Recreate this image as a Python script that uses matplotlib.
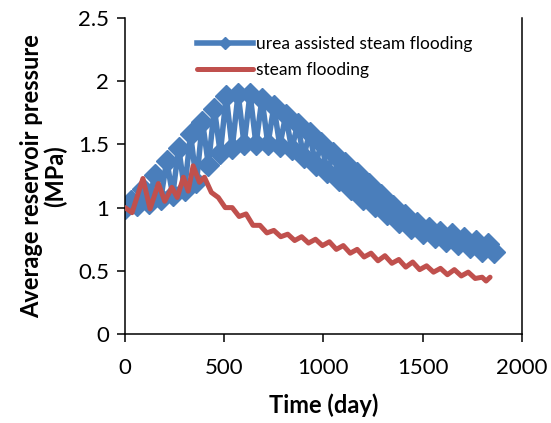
import numpy as np
import matplotlib.pyplot as plt

# urea assisted steam flooding (monthly output, alternating high/low)
urea_days = [0, 30, 60, 90, 120, 150, 180, 210, 240, 270, 300, 330, 360, 390, 420,
             450, 480, 510, 540, 570, 600, 630, 660, 690, 720, 750, 780, 810, 840,
             870, 900, 930, 960, 990, 1020, 1050, 1080, 1110, 1140, 1170, 1200,
             1230, 1260, 1290, 1320, 1350, 1380, 1410, 1440, 1470, 1500, 1530,
             1560, 1590, 1620, 1650, 1680, 1710, 1740, 1770, 1800, 1830, 1860]
urea_pressure = [1.00, 1.05, 1.02, 1.15, 1.04, 1.26, 1.07, 1.37, 1.10, 1.47, 1.14,
                 1.58, 1.20, 1.68, 1.34, 1.78, 1.43, 1.88, 1.47, 1.90, 1.50, 1.90,
                 1.50, 1.86, 1.50, 1.80, 1.49, 1.73, 1.46, 1.66, 1.40, 1.59, 1.34,
                 1.51, 1.28, 1.43, 1.22, 1.35, 1.15, 1.27, 1.07, 1.19, 1.01, 1.10,
                 0.95, 1.01, 0.89, 0.94, 0.84, 0.88, 0.80, 0.84, 0.77, 0.81, 0.74,
                 0.79, 0.71, 0.76, 0.69, 0.74, 0.66, 0.71, 0.65]

# steam flooding
steam_days = [0, 35, 90, 126, 168, 200, 236, 263, 294, 318, 343, 375, 400, 435,
              470, 505, 540, 575, 610, 645, 680, 715, 750, 785, 820, 855, 890,
              925, 960, 995, 1030, 1065, 1100, 1135, 1170, 1205, 1240, 1275, 1310,
              1345, 1380, 1415, 1450, 1485, 1520, 1555, 1590, 1625, 1660, 1695,
              1730, 1765, 1800, 1820, 1840]
steam_pressure = [1.00, 0.96, 1.23, 0.99, 1.19, 1.05, 1.16, 1.08, 1.24, 1.13, 1.33,
                  1.20, 1.24, 1.12, 1.08, 1.00, 1.00, 0.93, 0.95, 0.86, 0.86, 0.80,
                  0.82, 0.77, 0.79, 0.74, 0.77, 0.72, 0.75, 0.70, 0.73, 0.67, 0.70,
                  0.64, 0.67, 0.61, 0.64, 0.58, 0.62, 0.56, 0.59, 0.53, 0.57, 0.51,
                  0.54, 0.49, 0.52, 0.47, 0.51, 0.46, 0.49, 0.44, 0.45, 0.42, 0.45]

x_ticks = [0, 500, 1000, 1500, 2000]
y_ticks = [0, 0.5, 1, 1.5, 2, 2.5]

plt.rcParams['font.family'] = ['Lato', 'DejaVu Sans']

fig = plt.figure(figsize=(5.51, 4.23), dpi=100)
ax = fig.add_axes([0.227, 0.21, 0.72, 0.748])

blue = '#4a7ebb'
red = '#c0504d'

ax.plot(urea_days, urea_pressure, color=blue, lw=4, marker='D', ms=11.5,
        mec=blue, mfc=blue, label='urea assisted steam flooding', zorder=2)
ax.plot(steam_days, steam_pressure, color=red, lw=3.6, solid_joinstyle='round',
        solid_capstyle='round', label='steam flooding', zorder=3)

ax.set_xlim(0, 2000)
ax.set_ylim(0, 2.5)
ax.set_xticks(x_ticks)
ax.set_xticklabels([str(t) for t in x_ticks])
ax.set_yticks(y_ticks)
ax.set_yticklabels(['0', '0.5', '1', '1.5', '2', '2.5'])
ax.tick_params(direction='out', length=5.5, width=1.1, labelsize=16)
ax.tick_params(axis='x', pad=12)
ax.tick_params(axis='y', pad=6)

ax.spines['top'].set_visible(False)
for s in ['left', 'bottom', 'right']:
    ax.spines[s].set_linewidth(1.1)

ax.set_xlabel('Time (day)', fontsize=17, fontweight='bold', labelpad=11)
ax.set_ylabel('Average reservoir pressure\n(MPa)', fontsize=17,
              fontweight='bold', labelpad=8, linespacing=1.0)

leg = ax.legend(loc='upper left', bbox_to_anchor=(0.165, 0.965), frameon=False,
                fontsize=12.5, handlelength=3.2, handletextpad=0.15,
                labelspacing=0.6, markerscale=0.5, borderaxespad=0)

fig.savefig('out.png', dpi=100)
